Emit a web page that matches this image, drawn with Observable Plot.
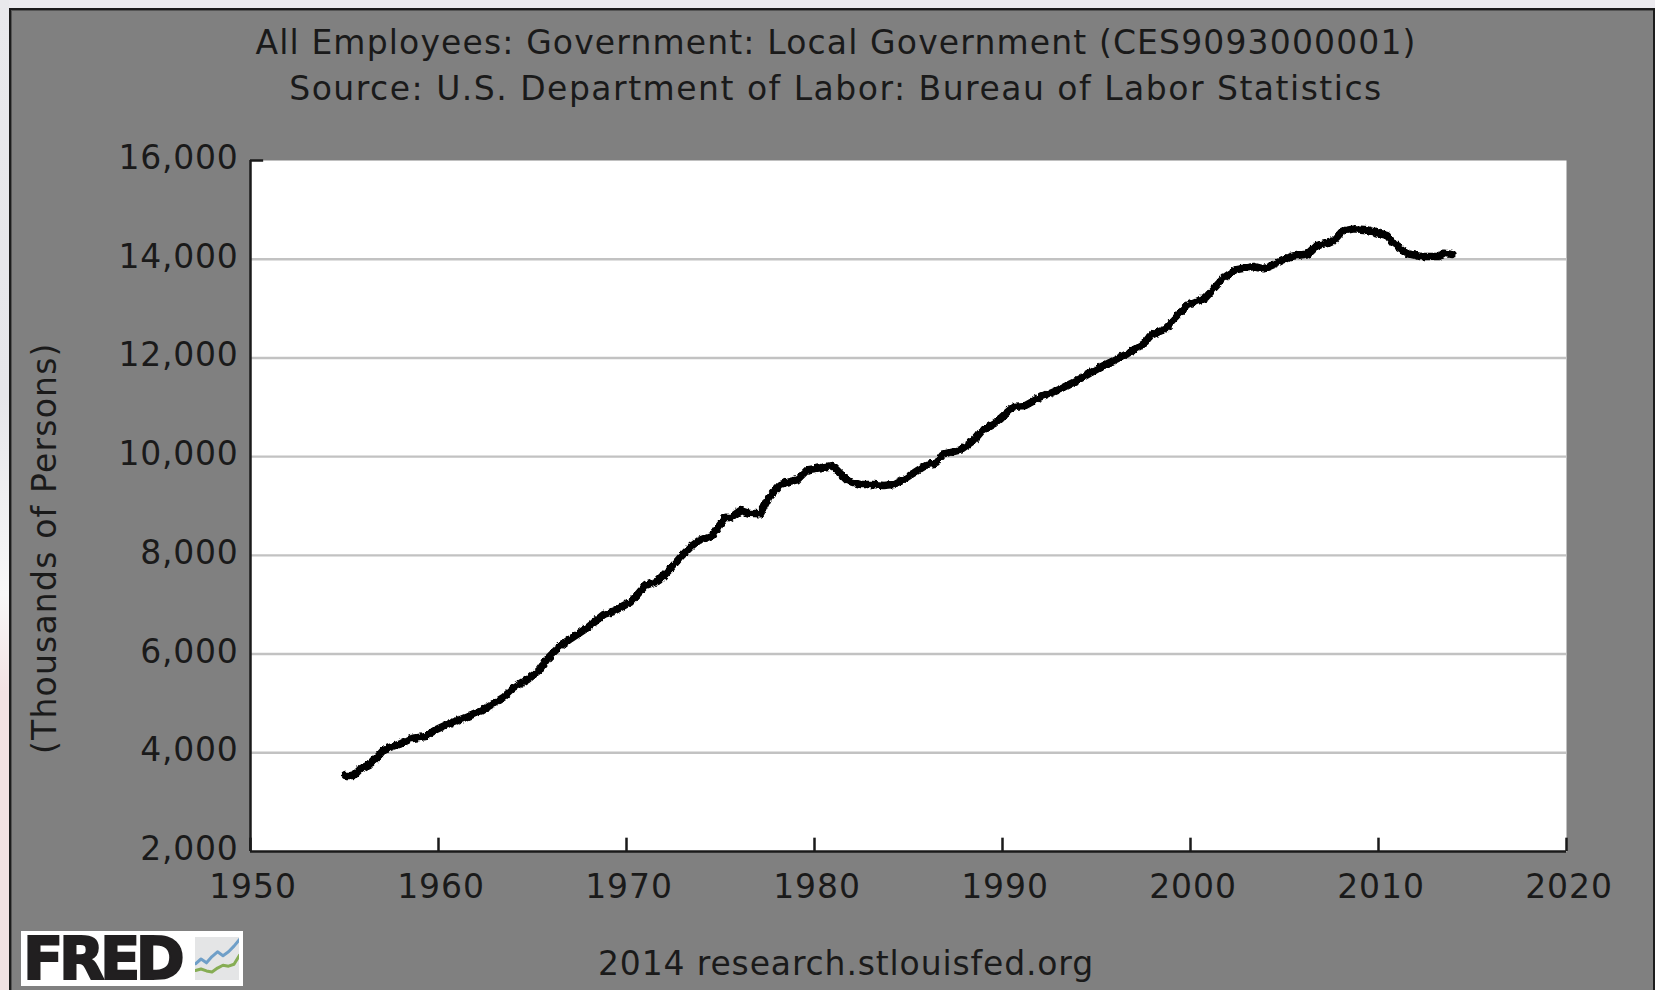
<!DOCTYPE html>
<html><head><meta charset="utf-8">
<script src="https://cdn.jsdelivr.net/npm/d3@7"></script>
<script src="https://cdn.jsdelivr.net/npm/@observablehq/plot@0.6"></script>
<style>
html,body{margin:0;padding:0;width:1655px;height:990px;overflow:hidden;background:#ecebef;font-family:"DejaVu Sans",sans-serif}
#page{position:absolute;left:0;top:0;width:1655px;height:990px;filter:blur(0.6px)}
#edge{position:absolute;left:0;top:0;width:9px;height:990px;background:linear-gradient(#e9e9ec,#e6e6ea 40%,#f8f8f8 60%,#f3e2e3 70%,#f0e2e3)}
#frame{position:absolute;left:9px;top:8px;width:1646px;height:982px;box-sizing:border-box;background:#808080;border:solid #1c1c1c;border-width:2px 2px 0 2px;box-shadow:inset 1px 1px 0 #555}
#chart{position:absolute;left:0;top:0}
.t{position:absolute;white-space:nowrap;color:#1a1a1a;font-size:33px;transform:translateX(-50%);line-height:40px}
#logo{position:absolute;left:21px;top:931px;width:222px;height:55px;background:#fff}
#logo b{position:absolute;left:2px;top:0;font:bold 59px/55px "DejaVu Sans",sans-serif;letter-spacing:-4.4px;color:#211f20;-webkit-text-stroke:2px #211f20}
#icon{position:absolute;left:174px;top:6px}
.ax-x text{letter-spacing:0.9px}
.ax-y text{letter-spacing:0.75px}
.ylab text{letter-spacing:1.2px}
</style></head><body>
<svg width="0" height="0" style="position:absolute"><filter id="jag" x="-5%" y="-5%" width="110%" height="110%"><feTurbulence type="fractalNoise" baseFrequency="0.22" numOctaves="2" seed="7"/><feDisplacementMap in="SourceGraphic" scale="4.5" xChannelSelector="R" yChannelSelector="G"/></filter></svg>
<div id="page">
<div id="edge"></div><div id="frame"></div><div id="chart"></div>
<div class="t" style="left:836px;top:23px;letter-spacing:1.14px">All Employees: Government: Local Government (CES9093000001)</div>
<div class="t" style="left:836px;top:69px;letter-spacing:1.5px">Source: U.S. Department of Labor: Bureau of Labor Statistics</div>
<div class="t" style="left:846px;top:944px;letter-spacing:0.86px">2014 research.stlouisfed.org</div>
<div id="logo"><b>FRED</b><div id="icon"></div></div>
</div>
<script>
const years=[1955.05,1955.5,1955.85,1956.38,1956.74,1957.09,1957.54,1957.98,1958.51,1959.31,1959.84,1960.46,1961.17,1961.7,1962.23,1962.94,1963.47,1964.01,1964.72,1965.34,1965.78,1966.31,1967.02,1967.91,1968.79,1969.32,1970.21,1971.01,1971.72,1972.34,1972.87,1973.49,1973.85,1974.56,1975.27,1975.53,1976.06,1976.51,1977.13,1977.57,1978.19,1978.55,1979.08,1979.61,1980.32,1980.94,1981.74,1982.45,1983.15,1983.69,1984.22,1984.93,1985.99,1986.44,1986.79,1987.77,1988.47,1988.92,1989.54,1990.6,1991.22,1992.02,1993.26,1993.97,1995.21,1995.92,1996.63,1997.52,1997.87,1998.67,1999.82,2000.8,2001.77,2002.39,2003.37,2003.9,2004.43,2005.32,2006.29,2006.74,2007.54,2008.07,2008.69,2009.4,2010.46,2010.82,2011.61,2012.23,2013.21,2013.48,2013.9];
const employees=[3540,3540,3675,3776,3911,4060,4128,4182,4283,4330,4465,4573,4675,4756,4843,5005,5127,5316,5478,5667,5904,6107,6309,6532,6802,6869,7051,7389,7491,7728,7963,8200,8301,8402,8773,8761,8909,8854,8842,9178,9436,9482,9531,9734,9774,9821,9517,9436,9436,9415,9436,9584,9841,9867,10044,10139,10327,10530,10665,11016,11036,11204,11407,11543,11812,11948,12084,12286,12454,12590,13062,13218,13623,13786,13852,13806,13893,14055,14110,14278,14345,14568,14616,14596,14480,14312,14110,14055,14055,14122,14096];
const xTicks=[1950,1960,1970,1980,1990,2000,2010,2020];
const yTicks=[2000,4000,6000,8000,10000,12000,14000,16000];
const gridValues=[4000,6000,8000,10000,12000,14000];
const logoX=[0,1,2,3,4,5,6,7,8];
const logoBlue=[3.5,4.5,3.7,5,6,5.2,6,7.2,8.6];
const logoGreen=[2.1,2.4,2,1.8,2.6,3.2,3,3.4,5.3];
const series=years.map((x,i)=>({x,y:employees[i]}));
const ink="#1a1a1a";
const plot=Plot.plot({
  width:1655,height:990,marginLeft:250,marginRight:89,marginTop:160,marginBottom:139,
  style:{background:"transparent",fontFamily:"'DejaVu Sans',sans-serif",fontSize:"33px",color:ink,overflow:"visible"},
  x:{domain:[1950,2020],label:null},
  y:{domain:[2000,16000],label:null},
  marks:[
    Plot.frame({fill:"#fff",stroke:null}),
    Plot.ruleY(gridValues,{stroke:"#c2c2c2",strokeWidth:2.4}),
    Plot.ruleX([1950],{stroke:ink,strokeWidth:2.5}),
    Plot.ruleY([2000],{stroke:ink,strokeWidth:2.5}),
    Plot.ruleY([16000],{x1:1950,x2:1950.7,stroke:ink,strokeWidth:2.5}),
    Plot.ruleX(xTicks,{y1:2000,y2:2270,stroke:ink,strokeWidth:2.5}),
    Plot.axisX({ticks:xTicks,tickFormat:d=>String(d),tickSize:0,tickPadding:23,fontSize:33,fill:ink,dx:2.5,className:"ax-x"}),
    Plot.axisY({ticks:yTicks,tickFormat:d3.format(","),tickSize:0,tickPadding:12,fontSize:33,fill:ink,dy:-2,className:"ax-y"}),
    Plot.text(["(Thousands of Persons)"],{frameAnchor:"left",dx:-205,dy:248,rotate:-90,fontSize:33,fill:ink,className:"ylab"}),
    Plot.line(series,{x:"x",y:"y",stroke:"#000",strokeWidth:7.5,strokeLinejoin:"round",curve:"linear",imageFilter:"url(#jag)"})
  ]
});
document.getElementById("chart").append(plot);
const icon=Plot.plot({width:44,height:43,margin:0,axis:null,
  style:{background:"#e4e5e6"},x:{domain:[0,8]},y:{domain:[0,9]},
  marks:[
    Plot.line(logoX,{x:d=>d,y:i=>logoBlue[i],stroke:"#6f9fc8",strokeWidth:3}),
    Plot.line(logoX,{x:d=>d,y:i=>logoGreen[i],stroke:"#86ad54",strokeWidth:3})
  ]});
document.getElementById("icon").append(icon);
</script>
</body></html>
